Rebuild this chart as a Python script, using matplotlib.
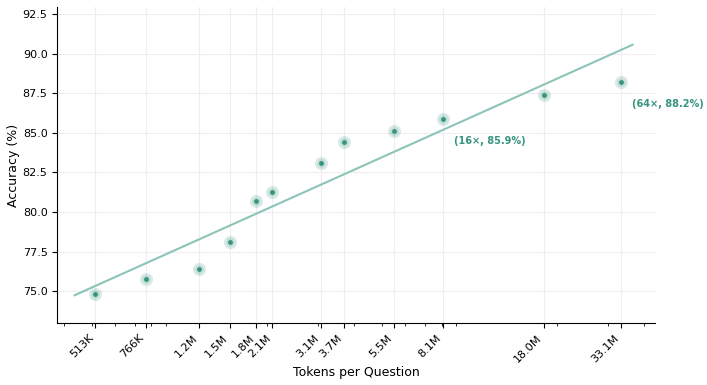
import numpy as np
import matplotlib.pyplot as plt

tokens = [513e3, 766e3, 1.17e6, 1.49e6, 1.84e6, 2.09e6, 3.08e6, 3.69e6, 5.48e6, 8.08e6, 18.0e6, 33.1e6]
tick_labels = ["513K", "766K", "1.2M", "1.5M", "1.8M", "2.1M", "3.1M", "3.7M", "5.5M", "8.1M", "18.0M", "33.1M"]
accuracy = [74.8, 75.8, 76.4, 78.1, 80.7, 81.3, 83.1, 84.4, 85.1, 85.9, 87.4, 88.2]
notes = {9: "(16\u00d7, 85.9%)", 11: "(64\u00d7, 88.2%)"}

dot = "#37947f"
fitc = "#8cc4b8"

fig = plt.figure(figsize=(7.07, 3.85), dpi=100)
ax = fig.add_axes([0.081, 0.161, 0.845, 0.821])
ax.set_xscale("log")

x = np.array(tokens); y = np.array(accuracy)
a, b = np.polyfit(np.log10(x), y, 1)
xf = np.logspace(np.log10(x.min() / 1.18), np.log10(x.max() * 1.1), 100)
ax.plot(xf, a * np.log10(xf) + b, color=fitc, lw=1.5, zorder=2)

ax.scatter(x, y, s=90, color=dot, alpha=0.18, lw=0, zorder=3)
ax.scatter(x, y, s=40, color=dot, alpha=0.15, lw=0, zorder=3)
ax.scatter(x, y, s=12, color=dot, lw=0, zorder=4)

for i, txt in notes.items():
    ax.annotate(txt, (x[i], y[i]), xytext=(8, -16), textcoords="offset points",
                ha="left", va="center", fontsize=7, fontweight="bold", color=dot)

ax.set_xticks(tokens)
ax.set_xticklabels(tick_labels, rotation=45, ha="right", fontsize=8)
ax.tick_params(axis="x", which="minor", labelbottom=False)
ax.tick_params(axis="y", labelsize=8)
ax.set_xlim(3.79e5, 4.34e7)
ax.set_ylim(73.0, 92.95)
ax.set_yticks(np.arange(75, 93, 2.5))
ax.grid(True, which="major", color="#eeeeee", lw=0.8, zorder=0)
ax.set_axisbelow(True)
for s in ["top", "right"]:
    ax.spines[s].set_visible(False)
ax.set_xlabel("Tokens per Question", fontsize=9, labelpad=1)
ax.set_ylabel("Accuracy (%)", fontsize=9, labelpad=2)

fig.savefig("out.png", dpi=100)
